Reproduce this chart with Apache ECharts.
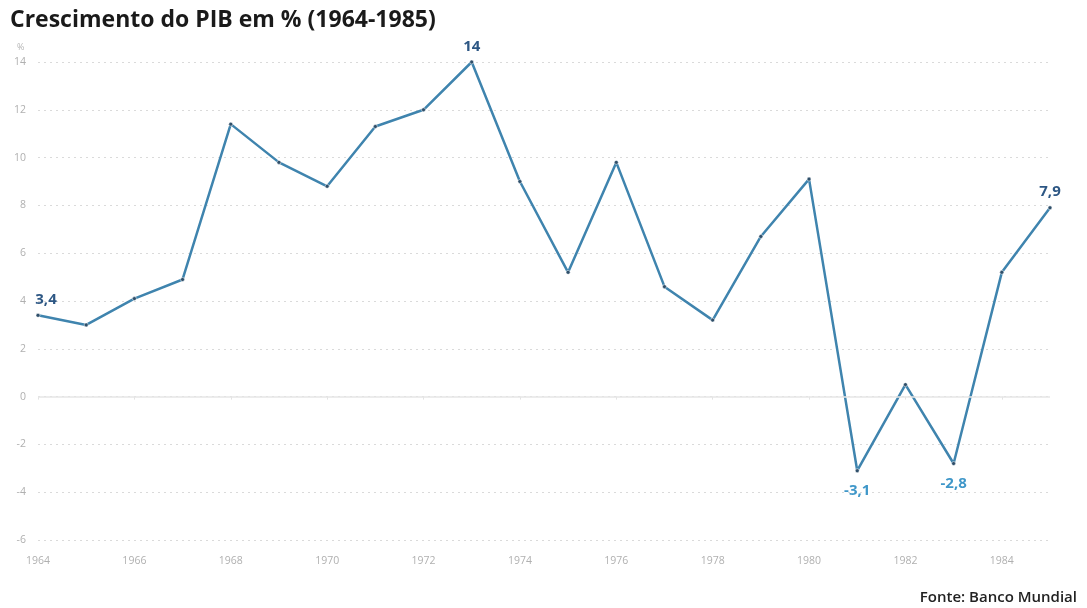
<!DOCTYPE html>
<html>
<head>
<meta charset="utf-8">
<script src="https://cdn.jsdelivr.net/npm/echarts@6/dist/echarts.min.js"></script>
<style>
  html, body { margin: 0; padding: 0; background: #ffffff; }
  #chart { width: 1087px; height: 608px; }
</style>
</head>
<body>
<div id="chart"></div>
<script>
// Crescimento anual do PIB brasileiro, 1964-1985 (%)
const years = ['1964','1965','1966','1967','1968','1969','1970','1971','1972','1973','1974',
               '1975','1976','1977','1978','1979','1980','1981','1982','1983','1984','1985'];
const growth = [3.4, 3.0, 4.1, 4.9, 11.4, 9.8, 8.8, 11.3, 12.0, 14, 9.0,
                5.2, 9.8, 4.6, 3.2, 6.7, 9.1, -3.1, 0.5, -2.8, 5.2, 7.9];
// Anos com valor destacado: [índice, posição do rótulo, cor]
const highlights = [
  [0, 'top', '#2d5784'],
  [9, 'top', '#2d5784'],
  [17, 'bottom', '#3f97c9'],
  [19, 'bottom', '#3f97c9'],
  [21, 'top', '#2d5784']
];
const yTicks = { min: -6, max: 14, interval: 2 };

const fmt = v => String(v).replace('.', ',');

const seriesData = growth.map((v, i) => {
  const h = highlights.find(x => x[0] === i);
  if (!h) return v;
  return {
    value: v,
    label: {
      show: true,
      position: h[1],
      color: h[2],
      offset: i === 0 ? [8, 0] : [0, 0],
      distance: h[1] === 'bottom' ? 10 : 6
    }
  };
});

const chart = echarts.init(document.getElementById('chart'), null, { renderer: 'canvas' });
chart.setOption({
  backgroundColor: '#ffffff',
  animation: false,
  title: [
    {
      text: 'Crescimento do PIB em % (1964-1985)',
      left: 5, top: 4,
      textStyle: { fontFamily: 'Open Sans', fontWeight: 'bold', fontSize: 23, color: '#1a1a1a' }
    },
    {
      text: 'Fonte: Banco Mundial',
      right: 5, top: 585,
      textStyle: { fontFamily: 'Open Sans', fontWeight: 600, fontSize: 15, color: '#222' }
    },
    {
      text: '%',
      left: 12, top: 38,
      textStyle: { fontFamily: 'Open Sans', fontWeight: 'normal', fontSize: 9, color: '#b5b5b5' }
    }
  ],
  grid: { left: 38, right: 37, top: 62, bottom: 68, containLabel: false },
  xAxis: {
    type: 'category',
    data: years,
    boundaryGap: false,
    axisLine: { show: false },
    axisTick: { show: true, interval: 1, length: 3, lineStyle: { color: '#e3e3e3' } },
    axisLabel: {
      interval: 1, color: '#b0b0b0', fontFamily: 'Open Sans', fontSize: 10.5, margin: 16
    },
    splitLine: { show: false }
  },
  yAxis: {
    type: 'value',
    min: yTicks.min, max: yTicks.max, interval: yTicks.interval,
    axisLine: { show: false },
    axisTick: { show: false },
    axisLabel: { color: '#b0b0b0', fontFamily: 'Open Sans', fontSize: 10.5, margin: 12 },
    splitLine: {
      show: true,
      lineStyle: { color: '#dadada', type: [2, 4], width: 1 }
    }
  },
  series: [
    {
      type: 'line',
      data: seriesData,
      symbol: 'circle',
      symbolSize: 4,
      itemStyle: { color: '#2f4f6a', borderColor: '#ffffff', borderWidth: 0.5 },
      lineStyle: { color: '#3f84ae', width: 2.5 },
      label: {
        show: false,
        fontFamily: 'Open Sans', fontWeight: 'bold', fontSize: 15,
        formatter: p => fmt(p.value)
      },
      markLine: {
        silent: true, symbol: 'none', label: { show: false },
        lineStyle: { color: '#e6e6e6', type: 'solid', width: 1.5 },
        data: [{ yAxis: 0 }]
      },
      z: 3
    }
  ]
});
</script>
</body>
</html>
